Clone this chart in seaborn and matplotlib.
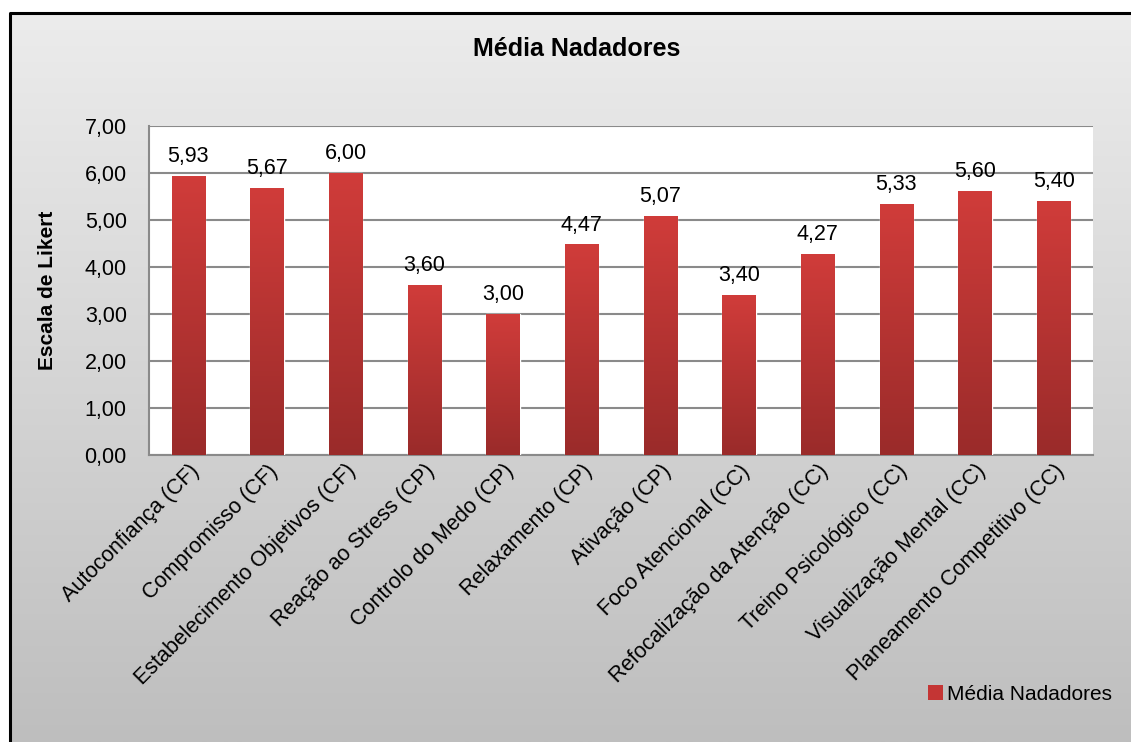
import numpy as np
import pandas as pd
import matplotlib
matplotlib.use("Agg")
import matplotlib.pyplot as plt
from matplotlib.colors import LinearSegmentedColormap
from matplotlib.patches import Patch
import seaborn as sns

sns.set_style("white")
plt.rcParams['font.family'] = ['Liberation Sans', 'DejaVu Sans']
plt.rcParams['text.color'] = 'black'
plt.rcParams['xtick.color'] = 'black'
plt.rcParams['ytick.color'] = 'black'
plt.rcParams['axes.labelcolor'] = 'black'

# data
categorias = [
    "Autoconfiança (CF)", "Compromisso (CF)", "Estabelecimento Objetivos (CF)",
    "Reação ao Stress (CP)", "Controlo do Medo (CP)", "Relaxamento (CP)",
    "Ativação (CP)", "Foco Atencional (CC)", "Refocalização da Atenção (CC)",
    "Treino Psicológico (CC)", "Visualização Mental (CC)", "Planeamento Competitivo (CC)",
]
medias = [5.93, 5.67, 6.00, 3.60, 3.00, 4.47, 5.07, 3.40, 4.27, 5.33, 5.60, 5.40]
yticks = [0, 1, 2, 3, 4, 5, 6, 7]
serie = "Média Nadadores"

df = pd.DataFrame({"cat": categorias, "val": medias})

fig = plt.figure(figsize=(11.31, 7.42), dpi=100)
fig.patch.set_facecolor("white")

# background: gray gradient + black frame
bg = fig.add_axes([0, 0, 1, 1], zorder=-5)
bg.axis("off")
grad = np.linspace(0, 1, 256).reshape(-1, 1)
bgcmap = LinearSegmentedColormap.from_list("bg", ["#ececec", "#bebebe"])
bg.imshow(grad, cmap=bgcmap, extent=[10, 1131, 742, 13], aspect="auto")
bg.plot([10, 10, 1131], [742, 13, 13], color="black", lw=2.2, solid_capstyle="butt")
bg.set_xlim(0, 1131)
bg.set_ylim(742, 0)

ax = fig.add_axes([149 / 1131, 1 - 455 / 742, (1093 - 149) / 1131, 329 / 742])
ax.set_facecolor("white")

sns.barplot(data=df, x="cat", y="val", color="#c43534", width=0.42,
            saturation=1, ax=ax, zorder=3)

barcmap = LinearSegmentedColormap.from_list("bar", ["#d03c3a", "#9a2b2a"])
for p in ax.patches:
    x0, w, h = p.get_x(), p.get_width(), p.get_height()
    ax.imshow(grad, cmap=barcmap, extent=[x0, x0 + w, 0, h],
              aspect="auto", zorder=4)
    ax.text(x0 + w / 2, h + 0.2, f"{h:.2f}".replace(".", ","),
            ha="center", va="bottom", fontsize=15.5, zorder=5)

ax.set_xlim(-0.5, len(categorias) - 0.5)
ax.set_ylim(0, 7)
ax.set_yticks(yticks)
ax.set_yticklabels([f"{t:.2f}".replace(".", ",") for t in yticks], fontsize=15.5)
ax.set_xticks(range(len(categorias)))
ax.set_xticklabels(categorias, rotation=45, ha="right", rotation_mode="anchor",
                   fontsize=15.5)
ax.tick_params(axis="both", length=0)
ax.tick_params(axis="y", pad=16)
ax.tick_params(axis="x", pad=4)
ax.grid(axis="y", color="#8a8a8a", lw=1.5, zorder=1)
ax.set_axisbelow(True)
for s in ["top", "right"]:
    ax.spines[s].set_visible(False)
for s in ["left", "bottom"]:
    ax.spines[s].set_color("#8a8a8a")
    ax.spines[s].set_linewidth(1.5)

ax.set_xlabel("")
ax.set_ylabel("Escala de Likert", fontsize=15, fontweight="bold", labelpad=20)

fig.text(577 / 1131, 1 - 49 / 742, serie, ha="center", va="center",
         fontsize=18, fontweight="bold")

handle = Patch(facecolor="#c43534", edgecolor="none", label=serie)
fig.legend(handles=[handle], loc="center left", bbox_to_anchor=(918 / 1131, 1 - 694 / 742),
           frameon=False, fontsize=15, handlelength=0.7, handleheight=0.7,
           handletextpad=0.2, borderpad=0)

fig.savefig("out.png", dpi=100)
